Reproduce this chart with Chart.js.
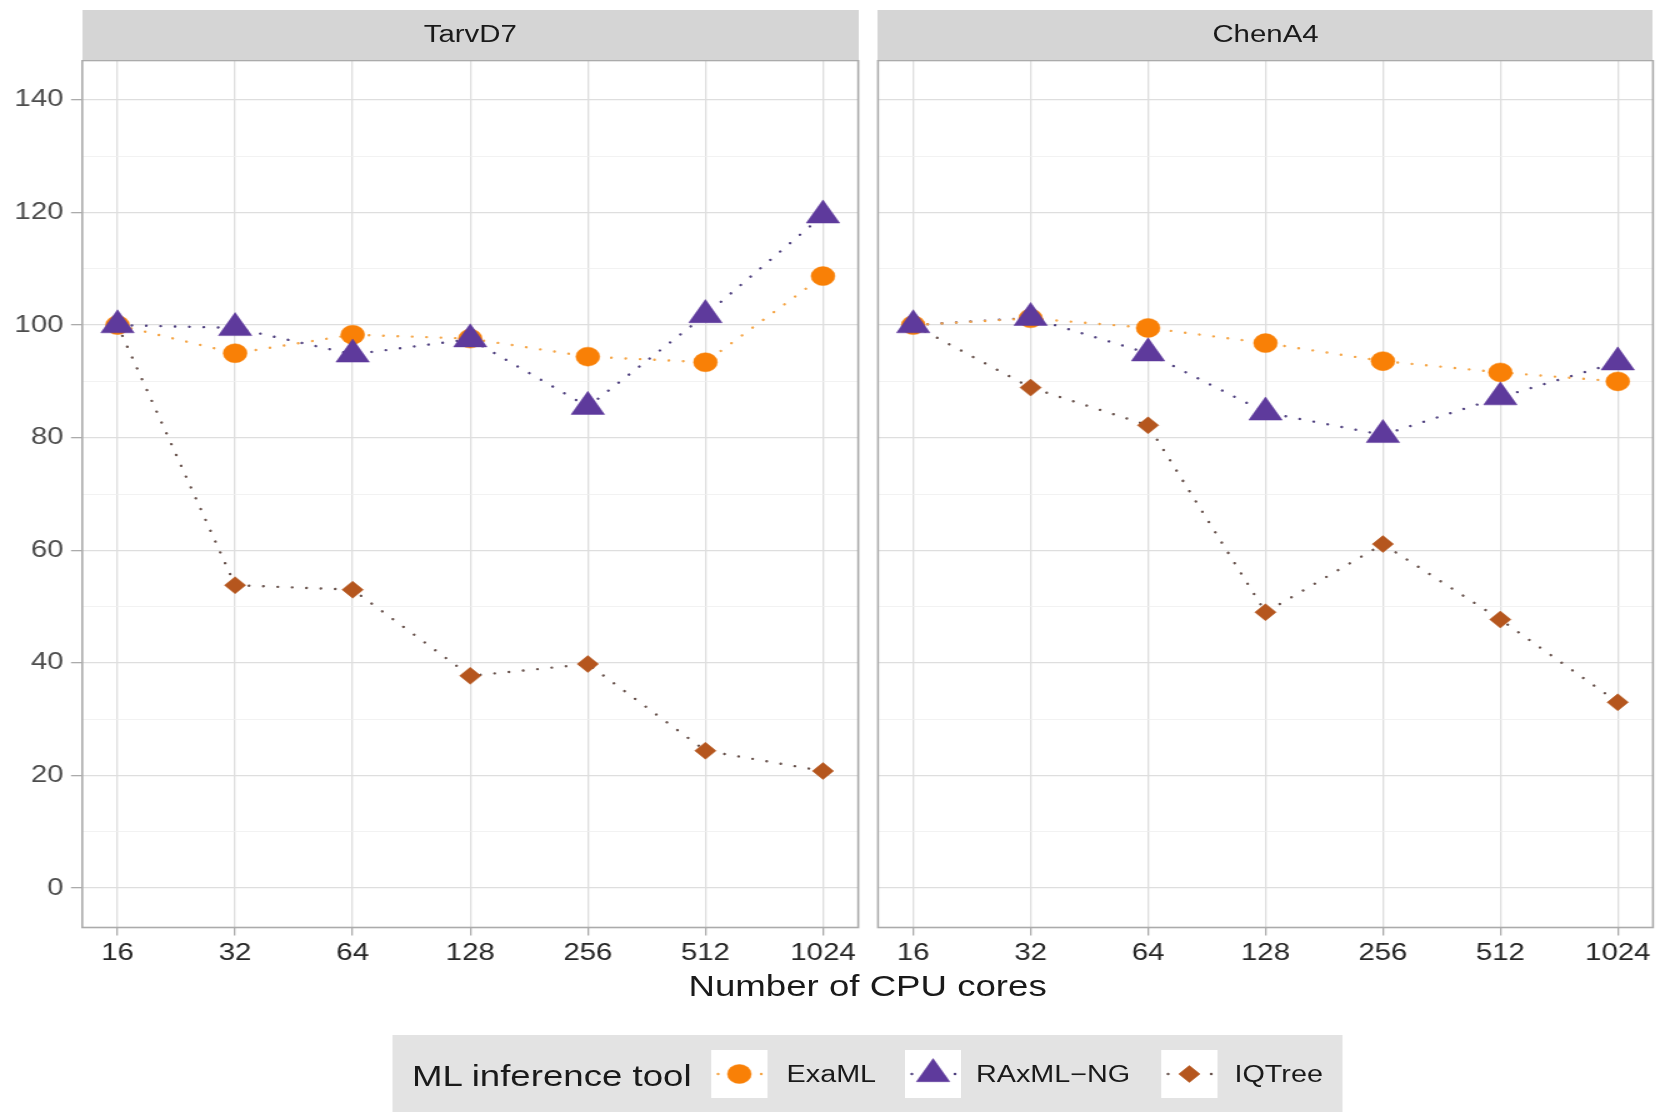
<!DOCTYPE html>
<html>
<head>
<meta charset="utf-8">
<title>Relative run time by number of CPU cores</title>
<script src="https://cdn.jsdelivr.net/npm/chart.js@4/dist/chart.umd.min.js"></script>
<style>
  html, body { margin: 0; padding: 0; background: #ffffff; }
  body { width: 1660px; height: 1112px; overflow: hidden; position: relative;
         font-family: "Liberation Sans", Arial, Helvetica, sans-serif; }
  /* the figure is laid out at 1328px and widened to the full 1660px */
  #fig { position: absolute; left: 0; top: 0; width: 1328px; height: 1112px;
         transform: scaleX(1.25); transform-origin: 0 0; }
  #fig canvas { position: absolute; }
  .strip { position: absolute; top: 9.5px; height: 51px; background: #d5d5d5;
           color: #1a1a1a; font-size: 23.5px; line-height: 49px; text-align: center; }
  #xtitle { position: absolute; left: 65.8px; width: 1256.6px; top: 971px;
            font-size: 29.3px; line-height: 29.3px; text-align: center; color: #1a1a1a; white-space: nowrap; }
  #legend { position: absolute; left: 314.4px; top: 1035px; width: 759.2px; height: 90px; background: #e3e3e3; }
  #legend .title { position: absolute; left: 15.2px; top: 25.7px; font-size: 29.3px; line-height: 29.3px;
                   color: #1a1a1a; white-space: nowrap; }
  #legend .lab { position: absolute; top: 27.8px; font-size: 23px; line-height: 23px; color: #1a1a1a; white-space: nowrap; }
  #legend canvas { position: absolute; top: 15px; background: #ffffff; }
</style>
</head>
<body>
<div id="fig">
  <div class="strip" id="strip0" style="left:65.8px;width:620.8px;"></div>
  <div class="strip" id="strip1" style="left:702.4px;width:620px;"></div>
  <canvas id="panel0" width="690" height="940" style="left:0px;top:60px;"></canvas>
  <canvas id="panel1" width="630" height="940" style="left:698px;top:60px;"></canvas>
  <div id="xtitle"></div>
  <div id="legend">
    <div class="title" id="legendTitle"></div>
    <canvas id="key0" width="45" height="48" style="left:254.4px;"></canvas>
    <div class="lab" id="lab0" style="left:314.9px;"></div>
    <canvas id="key1" width="45" height="48" style="left:409.6px;"></canvas>
    <div class="lab" id="lab1" style="left:466.4px;"></div>
    <canvas id="key2" width="45" height="48" style="left:614.4px;"></canvas>
    <div class="lab" id="lab2" style="left:673.2px;"></div>
  </div>
</div>
<script>
// ---- data -------------------------------------------------------------
const cores = [16, 32, 64, 128, 256, 512, 1024];
const xTickLabels = ['16', '32', '64', '128', '256', '512', '1024'];
const yTicks = [0, 10, 20, 30, 40, 50, 60, 70, 80, 90, 100, 110, 120, 130, 140];
const yLabelStep = 20;
const panelNames = ['TarvD7', 'ChenA4'];
const tools = ['ExaML', 'RAxML\u2212NG', 'IQTree'];
const xTitle = 'Number of CPU cores';
const legendTitle = 'ML inference tool';

// relative run time (%), one value per core count
const tarvExaML  = [100, 95.0, 98.3, 97.6, 94.4, 93.4, 108.7];
const tarvRaxml  = [100, 99.5, 94.8, 97.5, 85.5, 101.8, 119.5];
const tarvIqtree = [100, 53.8, 53.0, 37.7, 39.8, 24.4, 20.8];
const chenExaML  = [100, 101.2, 99.5, 96.8, 93.6, 91.6, 90.0];
const chenRaxml  = [100, 101.3, 95.0, 84.5, 80.5, 87.2, 93.4];
const chenIqtree = [100, 88.9, 82.2, 49.0, 61.1, 47.7, 33.0];

const panelSeries = [
  [tarvExaML, tarvRaxml, tarvIqtree],
  [chenExaML, chenRaxml, chenIqtree]
];

// ---- styling ----------------------------------------------------------
const FONT = '"Liberation Sans", Arial, Helvetica, sans-serif';
const pointColors = ['#F98006', '#5E3A9C', '#B5561E'];
const lineColors  = ['#F5A444', '#4E3F7E', '#66504A'];
const pointStyles = ['circle', 'triangle', 'rectRot'];
const pointRadii  = [9.5, 15.4, 8.5];
const pointOrder  = [2, 1, 3];          // lower order is painted on top
const DOTS = [0.01, 11.5];

const panelBorder = {
  id: 'panelBorder',
  afterDraw(chart) {
    const { ctx, chartArea: a } = chart;
    ctx.save();
    ctx.strokeStyle = '#ababab';
    ctx.lineWidth = 1.6;
    ctx.strokeRect(a.left, a.top, a.right - a.left, a.bottom - a.top);
    ctx.restore();
  }
};

function buildPanel(canvasId, series, withYAxis, pad) {
  const datasets = [];
  series.forEach((vals, i) => {
    const pts = cores.map((c, j) => ({ x: Math.log2(c), y: vals[j] }));
    datasets.push({
      label: tools[i] + ' line', data: pts, showLine: true, fill: false,
      borderColor: lineColors[i], borderWidth: 2.4, borderDash: DOTS,
      borderCapStyle: 'round', pointRadius: 0, order: 10 + i
    });
    datasets.push({
      label: tools[i], data: pts, showLine: false,
      pointStyle: pointStyles[i], pointRadius: pointRadii[i],
      pointBackgroundColor: pointColors[i], pointBorderColor: pointColors[i],
      pointBorderWidth: 0.5, order: pointOrder[i]
    });
  });

  return new Chart(document.getElementById(canvasId), {
    type: 'scatter',
    data: { datasets },
    plugins: [panelBorder],
    options: {
      responsive: false,
      animation: false,
      events: [],
      layout: { autoPadding: false, padding: pad },
      plugins: { legend: { display: false }, tooltip: { enabled: false } },
      scales: {
        x: {
          type: 'linear', min: 3.7, max: 10.3,
          afterBuildTicks: axis => { axis.ticks = cores.map(c => ({ value: Math.log2(c) })); },
          afterFit: axis => { axis.height = 72.5; axis.paddingLeft = 0; axis.paddingRight = 0; },
          border: { display: false },
          grid: { color: '#dedede', lineWidth: 1.3, tickColor: '#ababab', tickLength: 8, tickWidth: 1.3 },
          ticks: {
            autoSkip: false, maxRotation: 0, padding: 4, color: '#262626',
            font: { family: FONT, size: 23.5 },
            callback: (v, idx) => xTickLabels[idx]
          }
        },
        y: {
          type: 'linear', min: -7, max: 147,
          afterBuildTicks: axis => { axis.ticks = yTicks.map(v => ({ value: v })); },
          afterFit: axis => { axis.width = withYAxis ? 65.8 : 0; axis.paddingTop = 0; axis.paddingBottom = 0; },
          border: { display: false },
          grid: {
            color: ctx => (ctx.tick && ctx.tick.value % yLabelStep === 0) ? '#dedede' : '#efefef',
            lineWidth: ctx => (ctx.tick && ctx.tick.value % yLabelStep === 0) ? 1.3 : 0.8,
            drawTicks: withYAxis,
            tickColor: ctx => (ctx.tick && ctx.tick.value % yLabelStep === 0) ? '#ababab' : 'rgba(0,0,0,0)',
            tickLength: 9, tickWidth: 1.3
          },
          ticks: {
            display: withYAxis, padding: 6, color: '#4d4d4d',
            font: { family: FONT, size: 23.5 },
            callback: v => (v % yLabelStep === 0 ? String(v) : '')
          }
        }
      }
    }
  });
}

buildPanel('panel0', panelSeries[0], true,  { left: 0,   right: 3.4, top: 0.5, bottom: 0 });
buildPanel('panel1', panelSeries[1], false, { left: 4.4, right: 5.6, top: 0.5, bottom: 0 });

// ---- text ---------------------------------------------------------------
document.getElementById('strip0').textContent = panelNames[0];
document.getElementById('strip1').textContent = panelNames[1];
document.getElementById('xtitle').textContent = xTitle;
document.getElementById('legendTitle').textContent = legendTitle;
tools.forEach((t, i) => { document.getElementById('lab' + i).textContent = t; });

// ---- legend keys --------------------------------------------------------
tools.forEach((t, i) => {
  const cv = document.getElementById('key' + i);
  const ctx = cv.getContext('2d');
  const cx = cv.width / 2, cy = cv.height / 2;
  ctx.save();
  ctx.strokeStyle = lineColors[i];
  ctx.lineWidth = 2.4;
  ctx.lineCap = 'round';
  ctx.setLineDash(DOTS);
  ctx.beginPath();
  ctx.moveTo(cx - 17, cy);
  ctx.lineTo(cv.width, cy);
  ctx.stroke();
  ctx.restore();
  ctx.fillStyle = pointColors[i];
  ctx.strokeStyle = pointColors[i];
  ctx.lineWidth = 0.5;
  Chart.helpers.drawPoint(ctx, { pointStyle: pointStyles[i], radius: pointRadii[i], rotation: 0, borderWidth: 0.5 }, cx, cy);
});
</script>
</body>
</html>
